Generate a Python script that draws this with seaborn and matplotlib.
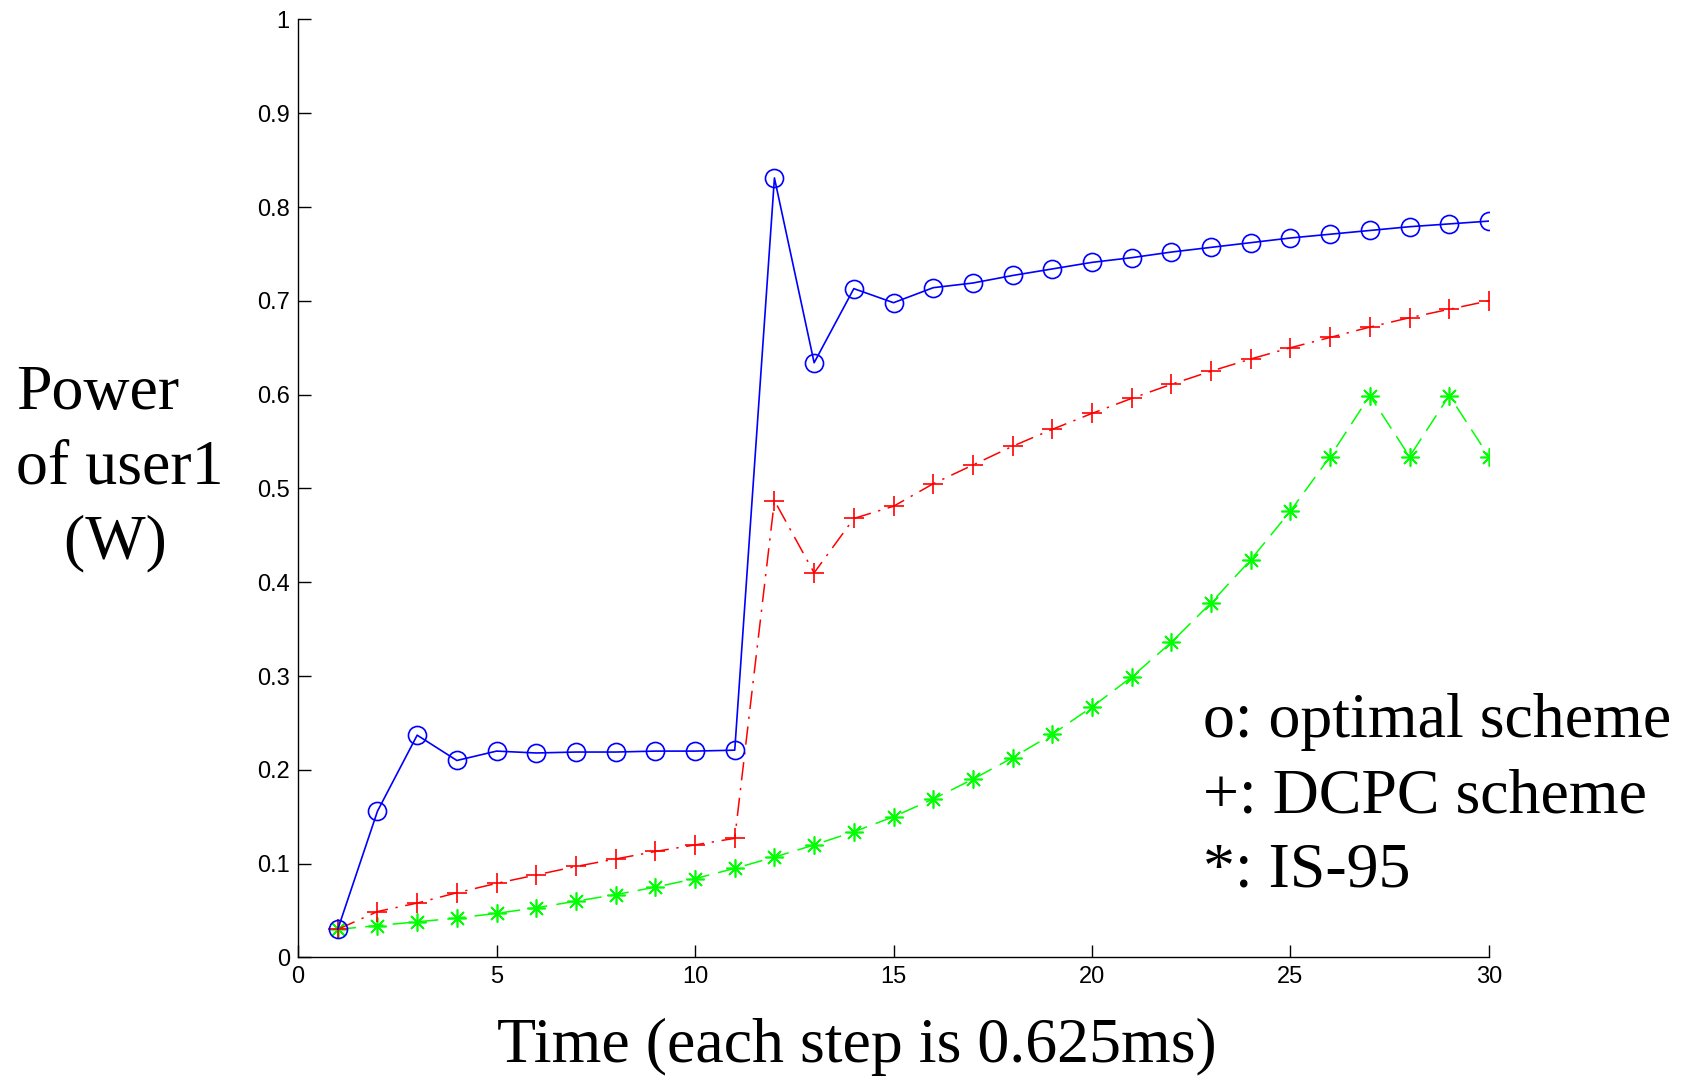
import seaborn as sns
from matplotlib import pyplot as plt
import pandas as pd
import numpy as np

sns.set_style('ticks')
plt.rcParams['font.family'] = ['Liberation Sans', 'DejaVu Sans']
plt.rcParams['text.color'] = 'black'
plt.rcParams['xtick.color'] = 'black'
plt.rcParams['ytick.color'] = 'black'

steps = list(range(1, 31))
optimal = [0.030, 0.156, 0.237, 0.210, 0.220, 0.218, 0.219, 0.219, 0.220, 0.220,
           0.221, 0.831, 0.634, 0.713, 0.698, 0.714, 0.719, 0.727, 0.734, 0.741,
           0.746, 0.752, 0.757, 0.762, 0.767, 0.771, 0.775, 0.779, 0.782, 0.785]
dcpc = [0.030, 0.049, 0.058, 0.069, 0.079, 0.088, 0.097, 0.105, 0.113, 0.120,
        0.127, 0.487, 0.410, 0.468, 0.481, 0.505, 0.525, 0.545, 0.563, 0.580,
        0.596, 0.611, 0.625, 0.638, 0.650, 0.661, 0.672, 0.682, 0.691, 0.700]
is95 = [0.030, 0.034, 0.038, 0.042, 0.047, 0.053, 0.060, 0.067, 0.075, 0.084,
        0.095, 0.107, 0.120, 0.134, 0.150, 0.169, 0.190, 0.213, 0.238, 0.267,
        0.299, 0.336, 0.378, 0.424, 0.476, 0.534, 0.599, 0.534, 0.599, 0.534]

df = pd.DataFrame({'step': steps, 'optimal': optimal, 'dcpc': dcpc, 'is95': is95})

fig = plt.figure(figsize=(16.87, 10.78), dpi=100)
ax = fig.add_axes([0.1767, 0.1118, 0.7059, 0.8702])

sns.lineplot(data=df, x='step', y='is95', ax=ax, color=(0, 1, 0), lw=1.1,
             dashes=(12, 6), marker=(8, 2, 0), markersize=13, mec=(0, 1, 0), mew=1.2)
sns.lineplot(data=df, x='step', y='dcpc', ax=ax, color=(1, 0, 0), lw=1.1,
             dashes=(12, 5, 1.5, 5), marker='+', markersize=15, mec=(1, 0, 0), mew=1.2)
sns.lineplot(data=df, x='step', y='optimal', ax=ax, color=(0, 0, 1), lw=1.2,
             linestyle='-', marker='o', markersize=13, mfc='none', mec=(0, 0, 1), mew=1.2)

ax.set_xlim(0, 30)
ax.set_ylim(0, 1)
ax.set_xticks(np.arange(0, 31, 5))
ax.set_yticks(np.arange(0, 1.01, 0.1))
ax.set_yticklabels(['0', '0.1', '0.2', '0.3', '0.4', '0.5', '0.6', '0.7', '0.8', '0.9', '1'])
ax.tick_params(direction='in', length=9, width=1, labelsize=17, pad=6)
for s in ['top', 'right']:
    ax.spines[s].set_visible(False)
for s in ['left', 'bottom']:
    ax.spines[s].set_linewidth(1.0)
    ax.spines[s].set_color('black')

ax.set_xlabel('')
ax.set_ylabel('')
serif = ['Liberation Serif', 'DejaVu Serif']
fig.text(0.0096, 0.565, 'Power\nof user1\n   (W)', family=serif, fontsize=46,
         ha='left', va='center', multialignment='left', linespacing=1.38)
fig.text(0.508, 0.029, 'Time (each step is 0.625ms)', family=serif, fontsize=46,
         ha='center', va='center')
ax.text(22.8, 0.171, 'o: optimal scheme\n+: DCPC scheme\n*: IS-95', family=serif,
        fontsize=46, ha='left', va='center', linespacing=1.38,
        transform=ax.transData)

plt.savefig('out.png', dpi=100)
